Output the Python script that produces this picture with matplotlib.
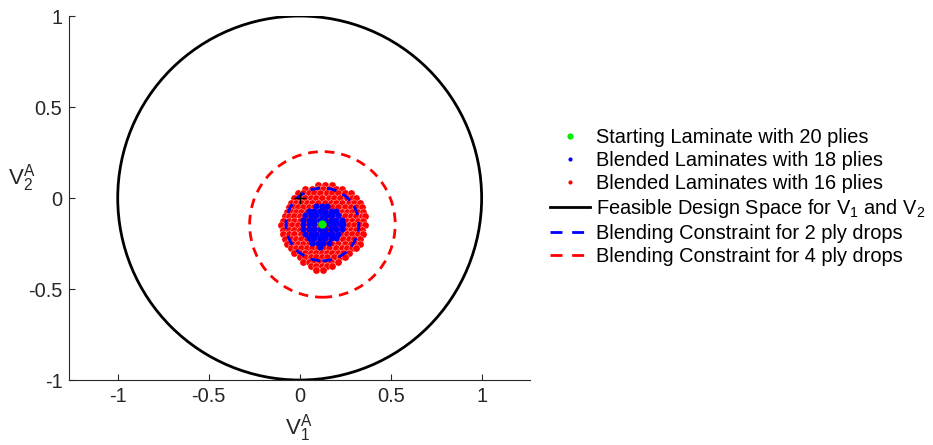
import matplotlib
matplotlib.use('Agg')
import matplotlib.pyplot as plt
from matplotlib.patches import Circle
from matplotlib.lines import Line2D

plt.rcParams['font.family'] = ['Liberation Sans', 'DejaVu Sans']
plt.rcParams['mathtext.fontset'] = 'custom'
plt.rcParams['mathtext.rm'] = 'Liberation Sans'
plt.rcParams['mathtext.it'] = 'Liberation Sans:italic'

# starting laminate (20 plies)
start_x = [0.125]
start_y = [-0.145]

# blended laminates, 18 plies (rows of constant V2)
blue_row_y = [-0.045, -0.07, -0.095, -0.12, -0.145, -0.17, -0.195, -0.22, -0.245, -0.27]
blue_row_x = [
    [0.09, 0.12, 0.15],
    [0.05, 0.08, 0.11, 0.14, 0.17, 0.20],
    [0.03, 0.06, 0.09, 0.12, 0.15, 0.18, 0.21],
    [0.02, 0.05, 0.08, 0.11, 0.14, 0.17, 0.20, 0.23],
    [0.02, 0.05, 0.08, 0.16, 0.19, 0.22, 0.24],
    [0.02, 0.05, 0.08, 0.11, 0.14, 0.17, 0.20, 0.23],
    [0.03, 0.06, 0.09, 0.12, 0.15, 0.18, 0.21],
    [0.05, 0.08, 0.11, 0.14, 0.17, 0.20],
    [0.07, 0.10, 0.13, 0.16],
    [0.11],
]

# blended laminates, 16 plies
red_row_y = [0.07, 0.05, 0.025, 0.0, -0.025, -0.05, -0.075, -0.10, -0.125, -0.15,
             -0.175, -0.20, -0.225, -0.25, -0.275, -0.30, -0.325, -0.35, -0.375, -0.395]
red_row_x = [
    [0.10, 0.14, 0.18],
    [0.03, 0.07, 0.10, 0.13, 0.16, 0.20, 0.23],
    [-0.01, 0.02, 0.05, 0.08, 0.11, 0.15, 0.18, 0.21, 0.25, 0.28],
    [-0.03, 0.0, 0.03, 0.06, 0.09, 0.12, 0.16, 0.19, 0.22, 0.26, 0.29, 0.31],
    [-0.05, -0.02, 0.01, 0.04, 0.07, 0.10, 0.14, 0.17, 0.20, 0.23, 0.27, 0.30, 0.33],
    [-0.06, -0.03, -0.01, 0.02, 0.05, 0.08, 0.12, 0.15, 0.18, 0.21, 0.25, 0.28, 0.31, 0.34],
    [-0.07, -0.04, -0.02, 0.01, 0.04, 0.07, 0.10, 0.13, 0.17, 0.20, 0.23, 0.26, 0.29, 0.32, 0.35],
    [-0.08, -0.06, -0.03, 0.0, 0.03, 0.06, 0.09, 0.12, 0.15, 0.18, 0.22, 0.25, 0.28, 0.31, 0.34, 0.36],
    [-0.09, -0.06, -0.03, 0.0, 0.04, 0.07, 0.10, 0.13, 0.16, 0.19, 0.23, 0.26, 0.29, 0.32, 0.35],
    [-0.10, -0.07, -0.04, -0.01, 0.02, 0.05, 0.08, 0.11, 0.15, 0.18, 0.21, 0.24, 0.27, 0.30, 0.33, 0.36],
    [-0.09, -0.06, -0.03, 0.0, 0.03, 0.06, 0.09, 0.13, 0.16, 0.19, 0.22, 0.25, 0.28, 0.31, 0.34],
    [-0.09, -0.06, -0.03, 0.01, 0.04, 0.07, 0.10, 0.13, 0.17, 0.20, 0.23, 0.26, 0.29, 0.32, 0.35],
    [-0.08, -0.05, -0.02, 0.01, 0.04, 0.08, 0.11, 0.14, 0.17, 0.21, 0.24, 0.27, 0.30, 0.33],
    [-0.07, -0.04, -0.01, 0.02, 0.05, 0.08, 0.12, 0.15, 0.18, 0.21, 0.25, 0.28, 0.31, 0.33],
    [-0.05, -0.02, 0.01, 0.04, 0.07, 0.10, 0.13, 0.16, 0.20, 0.23, 0.26, 0.29, 0.31],
    [-0.03, 0.0, 0.03, 0.06, 0.09, 0.12, 0.15, 0.18, 0.21, 0.24, 0.27],
    [0.0, 0.03, 0.06, 0.09, 0.12, 0.15, 0.19, 0.22, 0.25],
    [0.02, 0.05, 0.08, 0.11, 0.14, 0.17, 0.21],
    [0.06, 0.09, 0.12, 0.15, 0.18],
    [0.09, 0.13],
]

# constraint circles
blend_center = (0.125, -0.145)
blend_radius_2 = 0.2
blend_radius_4 = 0.4
feasible_radius = 1.0

labels = ['Starting Laminate with 20 plies',
          'Blended Laminates with 18 plies',
          'Blended Laminates with 16 plies',
          r'Feasible Design Space for V$_1$ and V$_2$',
          'Blending Constraint for 2 ply drops',
          'Blending Constraint for 4 ply drops']

red_x = [x for xs in red_row_x for x in xs]
red_y = [y for y, xs in zip(red_row_y, red_row_x) for _ in xs]
blue_x = [x for xs in blue_row_x for x in xs]
blue_y = [y for y, xs in zip(blue_row_y, blue_row_x) for _ in xs]

fig = plt.figure(figsize=(9.33, 4.45), dpi=100)
ax = fig.add_axes([0.0743, 0.146, 0.4938, 0.818])

dash = (0, (3.5, 2.5))
ax.add_patch(Circle((0, 0), feasible_radius, fill=False, color='black', lw=2))
ax.add_patch(Circle(blend_center, blend_radius_4, fill=False, color='red', lw=2, linestyle=dash))

ax.plot(red_x, red_y, 'o', color='red', ms=5.2, mec='white', mew=0.25, zorder=3)
ax.plot(blue_x, blue_y, 'o', color='blue', ms=4.4, mew=0, zorder=4)
ax.add_patch(Circle(blend_center, blend_radius_2, fill=False, color='blue', lw=2,
                    linestyle=dash, zorder=5))
ax.plot(start_x, start_y, 'o', color='#00ee00', ms=6, mew=0, zorder=6)
ax.plot([0], [0], '+', color='black', ms=9, mew=1, zorder=7)

ax.set_xlim(-1.266, 1.266)
ax.set_ylim(-1, 1)
ax.set_xticks([-1, -0.5, 0, 0.5, 1])
ax.set_yticks([-1, -0.5, 0, 0.5, 1])
ax.set_xticklabels(['-1', '-0.5', '0', '0.5', '1'])
ax.set_yticklabels(['-1', '-0.5', '0', '0.5', '1'])
ax.spines['top'].set_visible(False)
ax.spines['right'].set_visible(False)
for s in ['left', 'bottom']:
    ax.spines[s].set_color('#262626')
    ax.spines[s].set_linewidth(0.8)
ax.tick_params(direction='in', length=4, width=0.8, colors='#262626',
               labelsize=14.4, pad=5)

ax.set_xlabel(r'$\mathrm{V}_1^\mathrm{A}$', fontsize=16, color='#262626')
ax.xaxis.set_label_coords(0.497, -0.088)
ax.set_ylabel(r'$\mathrm{V}_2^\mathrm{A}$', fontsize=16, color='#262626', rotation=0,
              ha='center', va='center')
ax.yaxis.set_label_coords(-0.103, 0.555)

handles = [
    Line2D([], [], ls='none', marker='o', color='#00ee00', ms=4.5, mew=0),
    Line2D([], [], ls='none', marker='o', color='blue', ms=3, mew=0),
    Line2D([], [], ls='none', marker='o', color='red', ms=3, mew=0),
    Line2D([], [], color='black', lw=2),
    Line2D([], [], color='blue', lw=2, ls=(0, (4.3, 3.5))),
    Line2D([], [], color='red', lw=2, ls=(0, (4.3, 3.5))),
]
fig.legend(handles, labels, loc='upper left', bbox_to_anchor=(550 / 933, 1 - 128 / 445),
           frameon=False, borderpad=0, borderaxespad=0, handlelength=2.0,
           handletextpad=0.3, labelspacing=0.2, fontsize=14.4)

fig.savefig('out.png', dpi=100)
